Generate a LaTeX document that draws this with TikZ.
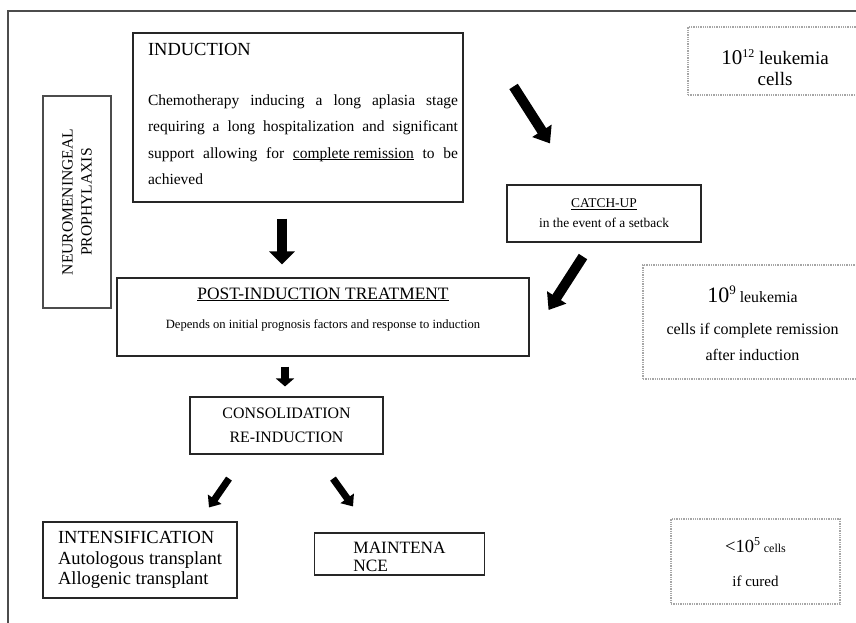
\documentclass[tikz,border=0pt]{standalone}
\usepackage{fontspec}
\setmainfont{Liberation Serif}
\usetikzlibrary{arrows.meta}
\newcommand{\undl}[1]{\setbox0=\hbox{#1}\leavevmode\rlap{\rule[-1.6pt]{\wd0}{0.8pt}}\box0\relax}

\begin{document}
\begin{tikzpicture}[
        x=1pt, y=-1pt,
        box/.style={draw=black!85, line width=1.1pt, align=center, inner sep=0pt},
        dotbox/.style={draw=gray!70, densely dotted, line width=1.3pt, align=center, inner sep=0pt},
        bigarr/.style={line width=10pt, -{Triangle[length=13pt, width=25pt]}},
        diagarr/.style={line width=10pt, -{Triangle[length=15pt, width=22pt]}},
        midarr/.style={line width=8pt, -{Triangle[length=8pt, width=18pt]}},
        smallarr/.style={line width=7pt, -{Triangle[length=10pt, width=16pt]}}
    ]
        \useasboundingbox (0,0) rectangle (856,622);
        \clip (0,0) rectangle (856,622);
        \draw[black!70, line width=1.3pt] (862,11) -- (8,11) -- (8,630);

        \node[box, inner xsep=5pt] (ind) at (298,117.5) {\parbox[c][169pt][t]{320pt}{\leftskip=10pt\hyphenpenalty=10000\vspace*{10pt}%
            {\fontsize{18.5}{22}\selectfont INDUCTION\par}%
            \fontsize{15.5}{26.5}\selectfont\vspace{23.5pt}%
            Chemotherapy inducing a long aplasia stage\linebreak requiring a long hospitalization and significant\linebreak support allowing for \undl{complete remission} to be\linebreak achieved}};
        \node[box, draw=black!70, rotate=90, minimum width=212pt, minimum height=68pt, font=\fontsize{15.6}{19}\selectfont] (neuro) at (77,202) {NEUROMENINGEAL\\PROPHYLAXIS};
        \node[box] (post) at (323,317) {\parbox[c][78pt][t]{412pt}{\centering\vspace*{10pt}%
            {\fontsize{17.4}{20}\selectfont\undl{POST-INDUCTION TREATMENT}\par}%
            \fontsize{12.6}{15}\selectfont\vspace{14pt}%
            Depends on initial prognosis factors and response to induction}};
        \node[box, minimum width=194pt, minimum height=57pt, font=\fontsize{13.4}{20}\selectfont] (catch) at (604,213.5) {\undl{CATCH-UP}\\in the event of a setback};
        \node[box, minimum width=193pt, minimum height=57pt, font=\fontsize{15.9}{24}\selectfont] (cons) at (286.5,425.5) {CONSOLIDATION\\RE-INDUCTION};
        \node[box, align=left, inner xsep=15pt, minimum width=194pt, minimum height=76pt, font=\fontsize{18.5}{20.5}\selectfont] (intens) at (140,560) {INTENSIFICATION\\Autologous transplant\\Allogenic transplant};
        \node[box, align=left, inner xsep=39pt, minimum height=42pt, text height=36pt, font=\fontsize{17.3}{18}\selectfont] (maint) at (399.5,554) {MAINTENA\\NCE};

        \node[dotbox] (cellsA) at (775,61) {\parbox[c][68pt][t]{174pt}{\centering\fontsize{19}{21}\selectfont\vspace*{23pt}%
            {\fontsize{21}{21}\selectfont 10}\raisebox{7pt}{\fontsize{12}{12}\selectfont 12} leukemia\\cells}};
        \node[dotbox] (cellsB) at (752.5,322) {\parbox[c][114pt][t]{219pt}{\centering\fontsize{16}{26}\selectfont\vspace*{21pt}%
            {\fontsize{22}{22}\selectfont 10}\raisebox{8pt}{\fontsize{13}{13}\selectfont 9} {\fontsize{15.8}{26}\selectfont leukemia}\\[6pt]cells if complete remission\\after induction}};
        \node[dotbox] (cellsC) at (755.5,561.5) {\parbox[c][85pt][t]{169pt}{\centering\fontsize{15}{34}\selectfont\vspace*{19pt}%
            {\fontsize{18.5}{18.5}\selectfont <10}\raisebox{7pt}{\fontsize{12}{12}\selectfont 5} {\fontsize{12}{12}\selectfont cells}\\if cured}};

        \draw[bigarr] ([xshift=-16pt, yshift=-16pt]ind.south) -- ([xshift=-41pt, yshift=13pt]post.north);
        \draw[diagarr] ([xshift=50pt, yshift=-54pt]ind.north east) -- ([xshift=-54pt, yshift=41pt]catch.north);
        \draw[diagarr] ([xshift=-21pt, yshift=-14pt]catch.south) -- ([xshift=19pt, yshift=7pt]post.east);
        \draw[midarr] ([xshift=-38pt, yshift=-10pt]post.south) -- ([xshift=-1.5pt, yshift=10pt]cons.north);
        \draw[smallarr] ([xshift=-57.5pt, yshift=-24pt]cons.south) -- ([xshift=69pt, yshift=14pt]intens.north);
        \draw[smallarr] ([xshift=46.5pt, yshift=-24pt]cons.south) -- ([xshift=-46.5pt, yshift=26pt]maint.north);
    \end{tikzpicture}
\end{document}
